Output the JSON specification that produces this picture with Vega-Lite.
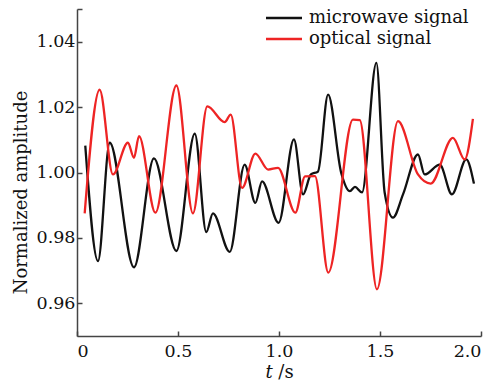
{
  "$schema": "https://vega.github.io/schema/vega-lite/v6.json",
  "width": 404,
  "height": 327,
  "autosize": {"type": "none"},
  "padding": {"left": 77, "top": 9, "right": 16, "bottom": 52},
  "background": "white",
  "config": {
    "view": {"stroke": null},
    "font": "DejaVu Serif",
    "axis": {
      "domainColor": "#444444",
      "domainWidth": 1.5,
      "tickColor": "#444444",
      "tickWidth": 1.5,
      "tickSize": -5,
      "grid": false,
      "labelFont": "DejaVu Serif",
      "labelFontSize": 17.5,
      "labelColor": "#111111",
      "titleFont": "DejaVu Serif",
      "titleFontSize": 18,
      "titleFontWeight": "normal",
      "titleColor": "#111111"
    },
    "legend": {
      "orient": "none",
      "legendX": 198,
      "legendY": 0,
      "padding": 0,
      "symbolType": "M-3,0H3",
      "symbolSize": 144,
      "symbolStrokeWidth": 2.5,
      "labelFont": "DejaVu Serif",
      "labelFontSize": 18,
      "labelColor": "#111111",
      "labelOffset": 16,
      "rowPadding": 3
    }
  },
  "datasets": {
    "signals": [
      {"series": "microwave signal", "t": 0.041, "v": 1.0082},
      {"series": "microwave signal", "t": 0.104, "v": 0.9729},
      {"series": "microwave signal", "t": 0.162, "v": 1.0091},
      {"series": "microwave signal", "t": 0.282, "v": 0.9710},
      {"series": "microwave signal", "t": 0.381, "v": 1.0043},
      {"series": "microwave signal", "t": 0.492, "v": 0.9760},
      {"series": "microwave signal", "t": 0.583, "v": 1.0119},
      {"series": "microwave signal", "t": 0.640, "v": 0.9818},
      {"series": "microwave signal", "t": 0.673, "v": 0.9875},
      {"series": "microwave signal", "t": 0.756, "v": 0.9757},
      {"series": "microwave signal", "t": 0.830, "v": 1.0024},
      {"series": "microwave signal", "t": 0.883, "v": 0.9907},
      {"series": "microwave signal", "t": 0.916, "v": 0.9973},
      {"series": "microwave signal", "t": 0.998, "v": 0.9846},
      {"series": "microwave signal", "t": 1.074, "v": 1.0101},
      {"series": "microwave signal", "t": 1.119, "v": 0.9933},
      {"series": "microwave signal", "t": 1.158, "v": 0.9994},
      {"series": "microwave signal", "t": 1.193, "v": 1.0003},
      {"series": "microwave signal", "t": 1.243, "v": 1.0238},
      {"series": "microwave signal", "t": 1.308, "v": 0.9999},
      {"series": "microwave signal", "t": 1.351, "v": 0.9943},
      {"series": "microwave signal", "t": 1.376, "v": 0.9956},
      {"series": "microwave signal", "t": 1.411, "v": 0.9939},
      {"series": "microwave signal", "t": 1.482, "v": 1.0335},
      {"series": "microwave signal", "t": 1.523, "v": 0.9939},
      {"series": "microwave signal", "t": 1.564, "v": 0.9862},
      {"series": "microwave signal", "t": 1.614, "v": 0.9933},
      {"series": "microwave signal", "t": 1.688, "v": 1.0055},
      {"series": "microwave signal", "t": 1.721, "v": 0.9994},
      {"series": "microwave signal", "t": 1.796, "v": 1.0024},
      {"series": "microwave signal", "t": 1.856, "v": 0.9933},
      {"series": "microwave signal", "t": 1.927, "v": 1.0040},
      {"series": "microwave signal", "t": 1.965, "v": 0.9966},
      {"series": "optical signal", "t": 0.038, "v": 0.9875},
      {"series": "optical signal", "t": 0.112, "v": 1.0253},
      {"series": "optical signal", "t": 0.178, "v": 0.9994},
      {"series": "optical signal", "t": 0.252, "v": 1.0091},
      {"series": "optical signal", "t": 0.282, "v": 1.0045},
      {"series": "optical signal", "t": 0.307, "v": 1.0111},
      {"series": "optical signal", "t": 0.388, "v": 0.9877},
      {"series": "optical signal", "t": 0.492, "v": 1.0266},
      {"series": "optical signal", "t": 0.574, "v": 0.9875},
      {"series": "optical signal", "t": 0.645, "v": 1.0202},
      {"series": "optical signal", "t": 0.731, "v": 1.0154},
      {"series": "optical signal", "t": 0.761, "v": 1.0177},
      {"series": "optical signal", "t": 0.817, "v": 0.9953},
      {"series": "optical signal", "t": 0.883, "v": 1.0058},
      {"series": "optical signal", "t": 0.946, "v": 1.0009},
      {"series": "optical signal", "t": 0.995, "v": 1.0014},
      {"series": "optical signal", "t": 1.081, "v": 0.9877},
      {"series": "optical signal", "t": 1.129, "v": 0.9988},
      {"series": "optical signal", "t": 1.178, "v": 0.9989},
      {"series": "optical signal", "t": 1.244, "v": 0.9694},
      {"series": "optical signal", "t": 1.366, "v": 1.0162},
      {"series": "optical signal", "t": 1.400, "v": 1.0160},
      {"series": "optical signal", "t": 1.485, "v": 0.9643},
      {"series": "optical signal", "t": 1.589, "v": 1.0157},
      {"series": "optical signal", "t": 1.688, "v": 0.9994},
      {"series": "optical signal", "t": 1.751, "v": 0.9966},
      {"series": "optical signal", "t": 1.861, "v": 1.0106},
      {"series": "optical signal", "t": 1.919, "v": 1.0040},
      {"series": "optical signal", "t": 1.960, "v": 1.0164}
    ]
  },
  "data": {"name": "signals"},
  "mark": {"type": "line", "interpolate": "monotone", "strokeWidth": 2.3},
  "encoding": {
    "x": {
      "field": "t",
      "type": "quantitative",
      "scale": {"domain": [0, 2], "nice": false},
      "axis": {
        "values": [0, 0.5, 1, 1.5, 2],
        "labelExpr": "datum.value == 0 ? '0' : format(datum.value, '.1f')",
        "labelPadding": 11,
        "title": "𝑡 /s",
        "titlePadding": 4
      }
    },
    "y": {
      "field": "v",
      "type": "quantitative",
      "scale": {"domain": [0.95, 1.05], "nice": false, "zero": false},
      "axis": {
        "values": [0.96, 0.98, 1.0, 1.02, 1.04, 1.05],
        "labelExpr": "datum.value > 1.045 ? '' : format(datum.value, '.2f')",
        "labelPadding": 7,
        "title": "Normalized amplitude",
        "titlePadding": 6,
        "titleY": 183
      }
    },
    "color": {
      "field": "series",
      "type": "nominal",
      "scale": {"domain": ["microwave signal", "optical signal"], "range": ["#111111", "#ee2424"]},
      "legend": {"title": null}
    }
  }
}
